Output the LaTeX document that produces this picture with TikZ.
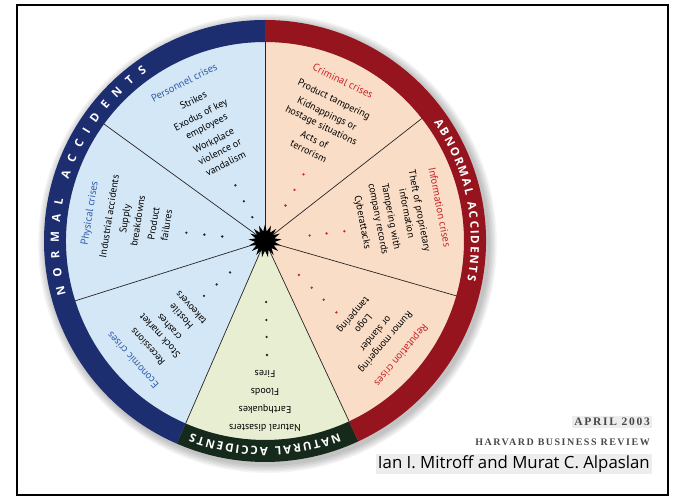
\documentclass[tikz,border=0pt]{standalone}
\usepackage{fontspec}
\setmainfont{PT Sans}
\newfontfamily\ringfont{Open Sans}
\newfontfamily\bylinefont{Open Sans}
\newfontfamily\hbrfont[LetterSpace=15]{Liberation Serif}
\usetikzlibrary{shapes.geometric, decorations.text}

\definecolor{nblue}  {RGB}{ 28, 46,112}
\definecolor{ared}   {RGB}{150, 20, 30}
\definecolor{ngreen} {RGB}{ 22, 42, 28}
\definecolor{skyfill}{RGB}{212,231,246}
\definecolor{peach}  {RGB}{250,221,198}
\definecolor{sage}   {RGB}{232,238,210}
\definecolor{tblue}  {RGB}{ 48, 92,170}
\definecolor{tred}   {RGB}{200, 34, 38}
\definecolor{spoke}  {RGB}{ 40, 36, 36}

\tikzset{
  % Crisis family block, #1 = rotation (top faces the rim)
  Fam/.style={anchor=north,rotate=#1,align=center,inner sep=0pt,
              font=\fontsize{10}{13}\selectfont,text=black},
  % White caption running round the rim
  RimText/.style={decorate,decoration={text along path,
              text align={fit to path},text color=white,
              text={|\ringfont\bfseries\fontsize{11.5}{11.5}\selectfont|#1}}},
  % Sector border
  Spk/.style={draw=spoke,line width=0.7pt},
  KDot/.style={fill=black!85},
  RDot/.style={fill=tred},
  % Black burst in the middle
  Hub/.style={star,star points=17,star point ratio=1.7,minimum size=33pt,
              fill=black,inner sep=0pt},
  Credit/.style={anchor=east,inner sep=2pt},
}
\newcommand{\famtitle}[2]{\textcolor{#1}{\fontsize{10.5}{13}\selectfont #2}}

\begin{document}
\begin{tikzpicture}[x=1pt,y=1pt]
  \useasboundingbox (0,0) rectangle (681,501);
  \draw[line width=1.4pt] (17,6) rectangle (668,496);

  \begin{scope}[shift={(265,260)}]
    % soft shadow under the wheel
    \foreach \s in {1,...,6}
      \fill[black,opacity=0.045] (2.5,-2.5) circle ({221+1.4*\s});

    % sectors
    \fill[skyfill] (0,0) -- (90:199) arc[start angle=90,end angle=246.5,radius=199] -- cycle;
    \fill[sage] (0,0) -- (246.5:199) arc[start angle=246.5,end angle=295,radius=199] -- cycle;
    \fill[peach] (0,0) -- (295:199) arc[start angle=295,end angle=450,radius=199] -- cycle;

    % rim
    \foreach \a/\b/\c in {90/246.5/nblue, 246.5/295/ngreen, 295/450/ared}
      \fill[\c] (\a:221) arc[start angle=\a,end angle=\b,radius=221]
        -- (\b:199) arc[start angle=\b,end angle=\a,radius=199] -- cycle;

    \foreach \a in {90,144,197.5,246.5,295,344,398}
      \draw[Spk] (0,0) -- (\a:199);

    \path[RimText=NORMAL ACCIDENTS] (195:206) arc[start angle=195,end angle=125,radius=206];
    \path[RimText=ABNORMAL ACCIDENTS] (35:206) arc[start angle=35,end angle=-11,radius=206];
    \path[RimText=NATURAL ACCIDENTS] (-69:206) arc[start angle=-69,end angle=-111,radius=206];

    % normal accidents
    \node[Fam=27] (personnel) at (117:182)
      {\famtitle{tblue}{Personnel crises}\\[7pt]
       Strikes\\[3pt] Exodus of key\\ employees\\[3pt] Workplace\\ violence or\\ vandalism};
    \node[Fam=81] (physical) at (171:182)
      {\famtitle{tblue}{Physical crises}\\[7pt]
       Industrial accidents\\[3pt] Supply\\ breakdowns\\[3pt] Product\\ failures};
    \node[Fam=132] (economic) at (222:182)
      {\famtitle{tblue}{Economic crises}\\[7pt]
       Recessions\\[3pt] Stock market\\ crashes\\[3pt] Hostile\\ takeovers};

    % natural accidents
    \node[Fam=180] (natural) at (270:191)
      {Natural disasters\\[5pt] Earthquakes\\[5pt] Floods\\[5pt] Fires};

    % abnormal accidents
    \node[Fam=-130] (reputation) at (320:182)
      {\famtitle{tred}{Reputation crises}\\[7pt]
       Rumor mongering\\ or slander\\[3pt] Logo\\ tampering};
    \node[Fam=-79] (information) at (11:182)
      {\famtitle{tred}{Information crises}\\[7pt]
       Theft of proprietary\\ information\\[3pt] Tampering with\\ company records\\[3pt] Cyberattacks};
    \node[Fam=-26] (criminal) at (64:182)
      {\famtitle{tred}{Criminal crises}\\[7pt]
       Product tampering\\[3pt] Kidnappings or\\ hostage situations\\[3pt] Acts of\\ terrorism};

    % dotted trails toward the hub
    \foreach \r in {27,45,63} \fill[KDot] (118:\r) circle (1.3);
    \foreach \r in {43,61,79} \fill[KDot] (174:\r) circle (1.3);
    \foreach \r in {47,65,82} \fill[KDot] (222:\r) circle (1.3);
    \foreach \r in {61,79,96,114} \fill[KDot] (271:\r) circle (1.3);
    \foreach \r in {48,66,83,101} \fill[RDot] (315:\r) circle (1.3);
    \foreach \r in {45,62,80} \fill[RDot] (7:\r) circle (1.3);
    \foreach \r in {41,59,77} \fill[RDot] (60:\r) circle (1.3);

    \node[Hub] (hub) at (0,0) {};
  \end{scope}

  \node[Credit,fill=black!7,font=\hbrfont\bfseries\fontsize{11.5}{13}\selectfont,
        text=black!72] (issue) at (652,79) {APRIL 2003};
  \node[Credit,font=\hbrfont\bfseries\fontsize{10}{11}\selectfont,
        text=black!72] (journal) at (652,59) {HARVARD BUSINESS REVIEW};
  \node[Credit,fill=black!7,font=\bylinefont\fontsize{16.8}{19}\selectfont]
        (authors) at (652,37) {Ian I. Mitroff and Murat C. Alpaslan};
\end{tikzpicture}
\end{document}
